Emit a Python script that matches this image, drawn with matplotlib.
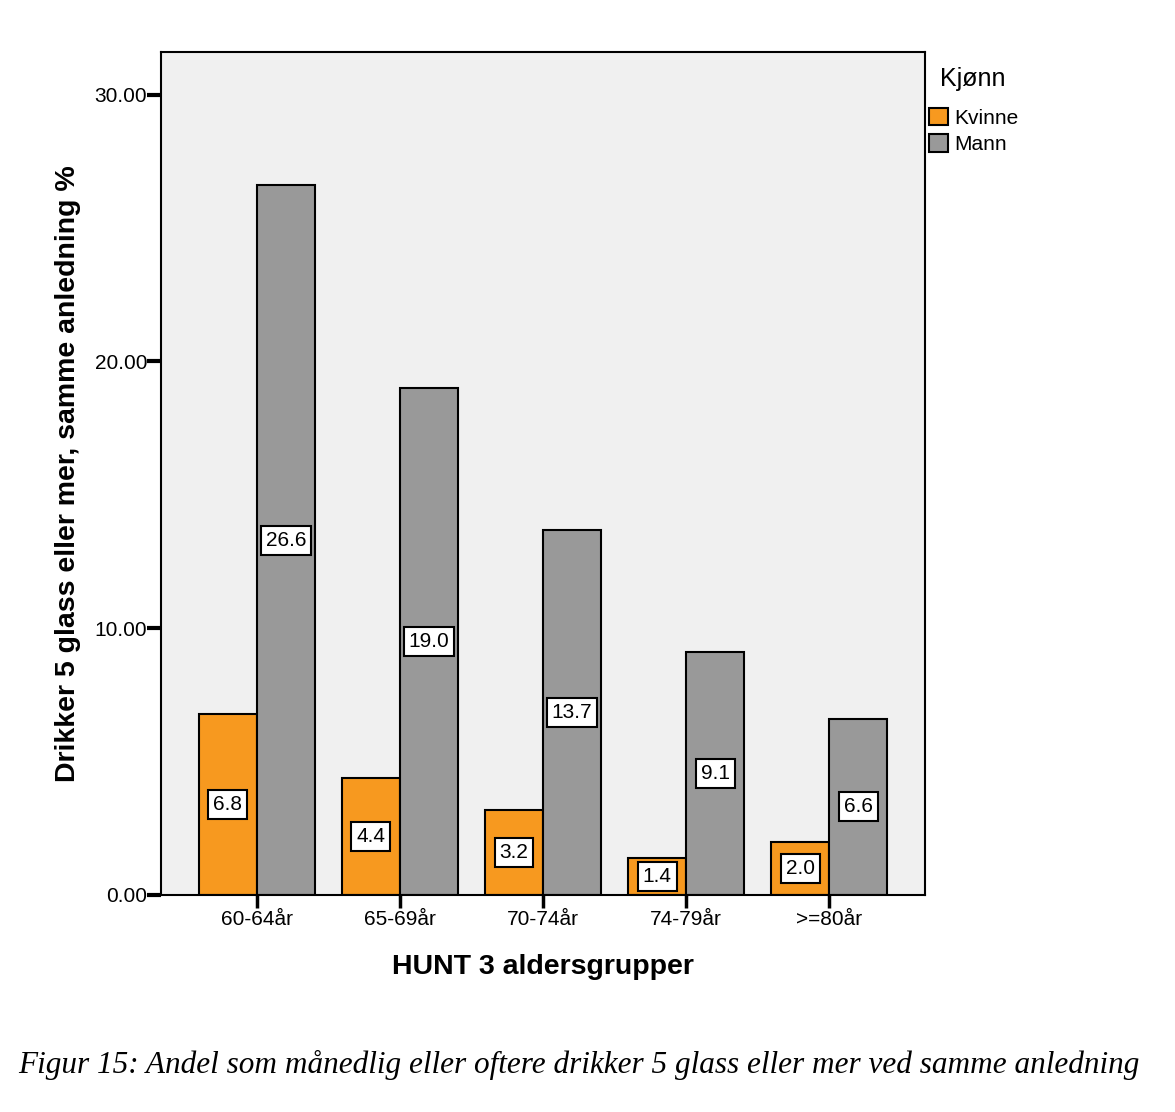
import numpy as np
import matplotlib.pyplot as plt

plt.rcParams['font.family'] = ['Liberation Sans', 'DejaVu Sans']

# data
grupper = ['60-64år', '65-69år', '70-74år', '74-79år', '>=80år']
kvinne = [6.8, 4.4, 3.2, 1.4, 2.0]
mann = [26.6, 19.0, 13.7, 9.1, 6.6]
yticks = [0, 10, 20, 30]

fig = plt.figure(figsize=(11.75, 11.12), dpi=100)
ax = fig.add_axes([161/1175, 1-895/1112, (925-161)/1175, (895-52)/1112])
ax.set_facecolor('#f0f0f0')

x = np.arange(len(grupper))
w = 0.405
bk = ax.bar(x - w/2, kvinne, w, color='#f7991f', edgecolor='black', linewidth=1.5, label='Kvinne')
bm = ax.bar(x + w/2, mann, w, color='#999999', edgecolor='black', linewidth=1.5, label='Mann')

# verdietiketter midt i stolpene
for bars, vals in [(bk, kvinne), (bm, mann)]:
    for b, v in zip(bars, vals):
        ax.text(b.get_x() + b.get_width()/2, v/2, f'{v:.1f}', ha='center', va='center',
                fontsize=15, bbox=dict(boxstyle='square,pad=0.24', fc='white', ec='black', lw=1.5))

ax.set_xlim(-0.67, 4.67)
ax.set_ylim(0, 31.6)
ax.set_xticks(x)
ax.set_xticklabels(grupper, fontsize=15)
ax.set_yticks(yticks)
ax.set_yticklabels([f'{t:.2f}' for t in yticks], fontsize=15)
ax.tick_params(axis='y', length=10, width=3, pad=0)
ax.tick_params(axis='x', length=9, width=2.5, pad=2)
for s in ax.spines.values():
    s.set_linewidth(1.5)

ax.set_xlabel('HUNT 3 aldersgrupper', fontsize=20.5, fontweight='bold', labelpad=18)
ax.set_ylabel('Drikker 5 glass eller mer, samme anledning %', fontsize=20.5, fontweight='bold', labelpad=10)

fig.text(940/1175, 1-79/1112, 'Kjønn', ha='left', va='center', fontsize=18)
fig.legend(handles=[bk, bm], loc='upper left',
           bbox_to_anchor=(925/1175, 1-104/1112), frameon=False, fontsize=15,
           handlelength=0.9, handleheight=0.9, handletextpad=0.3,
           labelspacing=0.3, borderaxespad=0, borderpad=0.2)

fig.text(579/1175, 1-1065/1112,
         'Figur 15: Andel som månedlig eller oftere drikker 5 glass eller mer ved samme anledning',
         ha='center', va='center', fontsize=22.5, style='italic', family='Liberation Serif')

plt.savefig('out.png', dpi=100)
